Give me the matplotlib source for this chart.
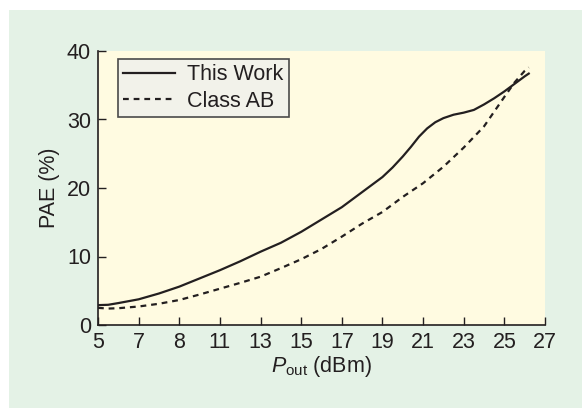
import matplotlib.pyplot as plt
from matplotlib.patches import Rectangle

plt.rcParams['font.family'] = ['Liberation Sans', 'DejaVu Sans']
plt.rcParams['mathtext.fontset'] = 'custom'
plt.rcParams['mathtext.rm'] = 'Liberation Sans'
plt.rcParams['mathtext.it'] = 'Liberation Sans:italic'

# values
work_x = [5.0, 5.5, 6.0, 7.0, 8.0, 9.0, 10.0, 11.0, 12.0, 13.0, 14.0, 15.0, 16.0,
          17.0, 18.0, 19.0, 19.5, 20.0, 20.4, 20.8, 21.2, 21.6, 22.0, 22.5, 23.0,
          23.5, 24.0, 24.5, 25.0, 25.5, 26.0, 26.2]
work_y = [2.9, 2.95, 3.2, 3.75, 4.6, 5.6, 6.8, 8.0, 9.3, 10.7, 12.0, 13.6, 15.4,
          17.2, 19.4, 21.6, 23.0, 24.6, 26.0, 27.5, 28.7, 29.6, 30.2, 30.7, 31.0,
          31.4, 32.2, 33.1, 34.1, 35.2, 36.3, 36.7]

ab_x = [5.0, 5.5, 6.0, 7.0, 8.0, 9.0, 10.0, 11.0, 12.0, 13.0, 14.0, 15.0, 16.0,
        17.0, 18.0, 19.0, 20.0, 21.0, 22.0, 23.0, 24.0, 25.0, 25.5, 26.0, 26.2]
ab_y = [2.5, 2.4, 2.45, 2.7, 3.1, 3.65, 4.45, 5.3, 6.15, 7.05, 8.3, 9.6, 11.1,
        12.9, 14.8, 16.5, 18.7, 20.7, 23.1, 25.9, 29.0, 33.3, 35.4, 37.1, 37.6]

x_ticks = [5, 7, 9, 11, 13, 15, 17, 19, 21, 23, 25, 27]
x_tick_labels = ['5', '7', '8', '11', '13', '15', '17', '19', '21', '23', '25', '27']
y_ticks = [0, 10, 20, 30, 40]

ink = '#231f20'
fs = 15.5

fig = plt.figure(figsize=(5.82, 4.08), dpi=100, facecolor='white')
fig.patches.append(Rectangle((9 / 582, 0), 1, 1 - 10 / 408, transform=fig.transFigure,
                             facecolor='#e4f2e6', edgecolor='none', zorder=-1))

ax = fig.add_axes([98 / 582, 83 / 408, 447 / 582, 274 / 408])
ax.set_facecolor('#fffbe1')

ax.plot(work_x, work_y, color=ink, lw=1.6, label='This Work')
ax.plot(ab_x, ab_y, color=ink, lw=1.6, ls=(0, (2.6, 2.2)), label='Class AB')

ax.set_xlim(5, 27)
ax.set_ylim(0, 40)
ax.set_xticks(x_ticks)
ax.set_xticklabels(x_tick_labels)
ax.set_yticks(y_ticks)

for s in ['top', 'right']:
    ax.spines[s].set_visible(False)
for s in ['left', 'bottom']:
    ax.spines[s].set_linewidth(1.2)
    ax.spines[s].set_color(ink)

ax.tick_params(direction='in', length=6, width=1.0, color=ink,
               labelsize=fs, labelcolor=ink, pad=5)

ax.set_ylabel('PAE (%)', fontsize=fs, color=ink, labelpad=5)
ax.set_xlabel(r'$P_{\mathrm{out}}$ (dBm)', fontsize=fs, color=ink, labelpad=1)

leg = ax.legend(loc='upper left', bbox_to_anchor=(20 / 447, 266 / 274), borderaxespad=0,
                fontsize=fs, frameon=True, fancybox=False, handlelength=2.4,
                handletextpad=0.55, borderpad=0.25, labelspacing=0.25)
leg.get_frame().set_facecolor('#f2f2ea')
leg.get_frame().set_edgecolor('#4a4a4a')
leg.get_frame().set_linewidth(1.2)
leg.get_frame().set_alpha(1)
for t in leg.get_texts():
    t.set_color(ink)

fig.savefig('out.png', dpi=100, facecolor=fig.get_facecolor())
